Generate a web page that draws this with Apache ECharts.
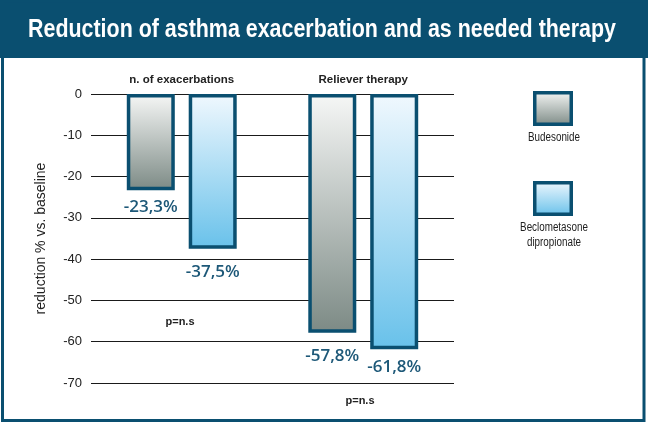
<!DOCTYPE html>
<html>
<head>
<meta charset="utf-8">
<script src="https://cdn.jsdelivr.net/npm/echarts@6/dist/echarts.min.js"></script>
<style>
html,body{margin:0;padding:0;background:#fff;}
#chart{width:648px;height:423px;}
</style>
</head>
<body>
<div id="chart"></div>
<script>
// ---- data ----
var categories = ['n. of exacerbations', 'Reliever therapy'];
var seriesNames = ['Budesonide', 'Beclometasone dipropionate'];
var budesonide = [-23.3, -57.8];
var beclometasone = [-37.5, -61.8];
var pValues = ['p=n.s', 'p=n.s'];
var yTicks = { min: -70, max: 0, interval: 10 };
var titleText = 'Reduction of asthma exacerbation and as needed therapy';

// ---- styles ----
var FRAME = '#0a4f70';
var SANS = '"Liberation Sans", Arial, sans-serif';
var greyGrad = new echarts.graphic.LinearGradient(0, 0, 0, 1, [
  { offset: 0, color: '#f6f7f6' }, { offset: 1, color: '#7c8a85' }]);
var blueGrad = new echarts.graphic.LinearGradient(0, 0, 0, 1, [
  { offset: 0, color: '#f0f8fe' }, { offset: 1, color: '#68c1ea' }]);
var labelDist = [[8, 15], [15, 10]]; // per series, per category

function fmt(p) { return p.value.toFixed(1).replace('.', ',') + '%'; }
function makeData(vals, s) {
  return vals.map(function (v, i) {
    return { value: v, label: { distance: labelDist[s][i] } };
  });
}
function measure(text, font) {
  var c = document.createElement('canvas').getContext('2d');
  c.font = font;
  return c.measureText(text).width;
}
var titleFont = 'bold 25.5px ' + SANS;
var titleScale = 588 / measure(titleText, titleFont);
var legendFont = '12.5px ' + SANS;
var legendScale = 52 / measure(seriesNames[0], legendFont);

var chart = echarts.init(document.getElementById('chart'), null, { renderer: 'canvas' });
var labelStyle = {
  show: true, position: 'bottom', formatter: fmt,
  color: '#1d5878', fontFamily: '"Open Sans", sans-serif', fontWeight: 600, fontSize: 17
};

var option = {
  animation: false,
  backgroundColor: '#fff',
  grid: { left: 91, right: 194, top: 94, bottom: 40, containLabel: false },
  xAxis: {
    type: 'category', data: categories, position: 'top',
    axisLine: { show: false }, axisTick: { show: false },
    axisLabel: { margin: 8, color: '#222', fontFamily: SANS, fontWeight: 'bold', fontSize: 11.5 }
  },
  yAxis: {
    type: 'value', min: yTicks.min, max: yTicks.max, interval: yTicks.interval,
    name: 'reduction % vs. baseline', nameLocation: 'middle', nameGap: 43,
    nameTextStyle: { color: '#222', fontFamily: SANS, fontSize: 14 },
    axisLine: { show: false }, axisTick: { show: false },
    axisLabel: { margin: 9, color: '#222', fontFamily: SANS, fontSize: 13 },
    splitLine: { show: true, lineStyle: { color: '#1a1a1a', width: 1 } }
  },
  series: [
    {
      name: seriesNames[0], type: 'bar', data: makeData(budesonide, 0),
      barWidth: 48, barGap: '29%',
      itemStyle: { color: greyGrad, borderColor: FRAME, borderWidth: 3.5 },
      label: labelStyle
    },
    {
      name: seriesNames[1], type: 'bar', data: makeData(beclometasone, 1),
      barWidth: 48, barGap: '29%',
      itemStyle: { color: blueGrad, borderColor: FRAME, borderWidth: 3.5 },
      label: labelStyle
    }
  ],
  graphic: [
    { type: 'rect', z: 100, shape: { x: 0, y: 0, width: 648, height: 58 }, style: { fill: FRAME } },
    { type: 'rect', z: 100, shape: { x: 2.5, y: 1, width: 641.5, height: 419.5 }, style: { fill: 'none', stroke: FRAME, lineWidth: 3 } },
    { type: 'text', z: 101, x: 322, y: 30, scaleX: titleScale, style: { text: titleText, fill: '#fff', font: titleFont, textAlign: 'center', textVerticalAlign: 'middle' } },
    { type: 'text', z: 101, x: 180, y: 322, style: { text: pValues[0], fill: '#222', font: 'bold 11px ' + SANS, textAlign: 'center', textVerticalAlign: 'middle' } },
    { type: 'text', z: 101, x: 360, y: 401, style: { text: pValues[1], fill: '#222', font: 'bold 11px ' + SANS, textAlign: 'center', textVerticalAlign: 'middle' } },
    // legend
    { type: 'rect', z: 101, shape: { x: 534.75, y: 92.75, width: 36.5, height: 31.5 }, style: { fill: greyGrad, stroke: FRAME, lineWidth: 3.5 } },
    { type: 'text', z: 101, x: 554, y: 137.5, scaleX: legendScale, style: { text: seriesNames[0], fill: '#222', font: legendFont, textAlign: 'center', textVerticalAlign: 'middle' } },
    { type: 'rect', z: 101, shape: { x: 534.75, y: 182.75, width: 36.5, height: 31.5 }, style: { fill: blueGrad, stroke: FRAME, lineWidth: 3.5 } },
    { type: 'text', z: 101, x: 554, y: 235, scaleX: legendScale, style: { text: 'Beclometasone\ndipropionate', fill: '#222', font: legendFont, textAlign: 'center', textVerticalAlign: 'middle', lineHeight: 15 } }
  ]
};
chart.setOption(option);
</script>
</body>
</html>
